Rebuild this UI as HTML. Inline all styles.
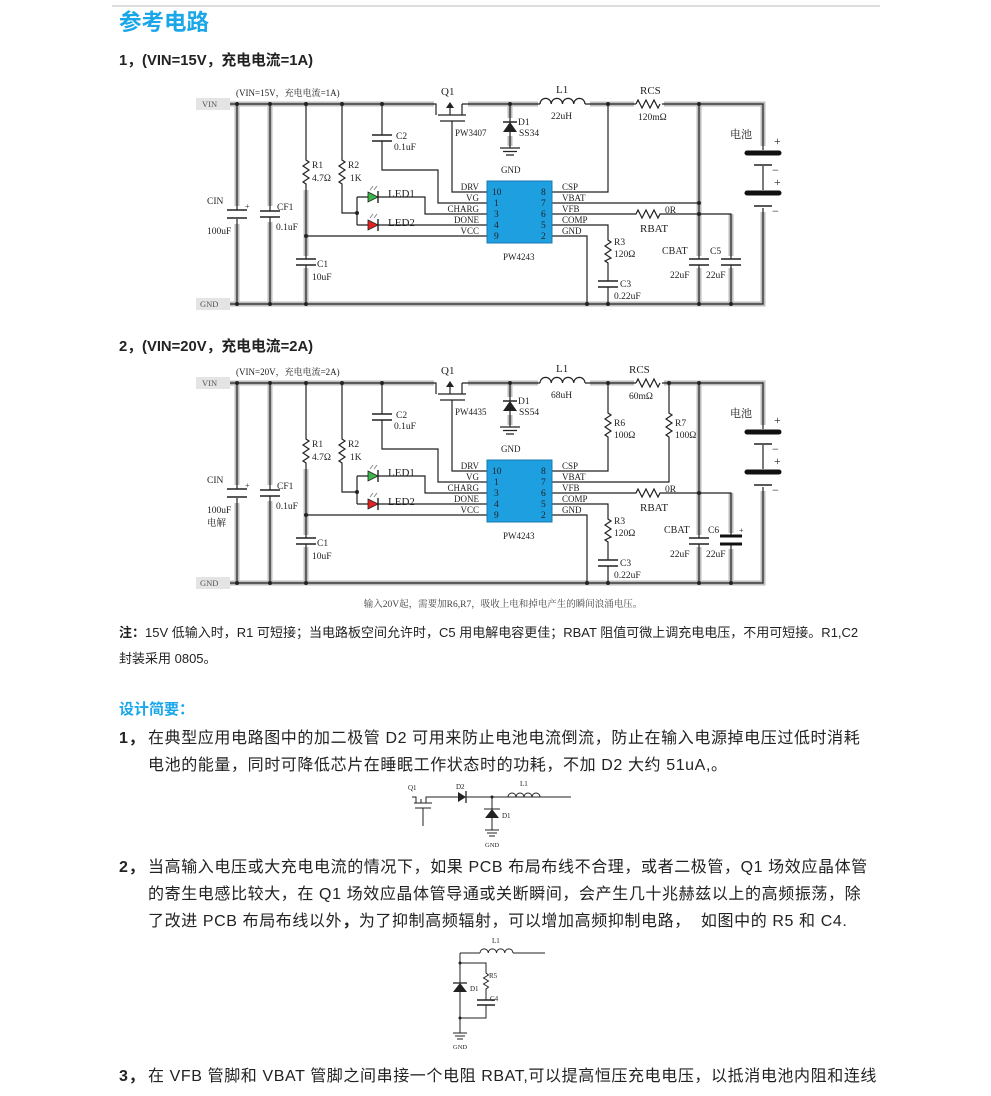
<!DOCTYPE html>
<html><head><meta charset="utf-8">
<style>
html,body{margin:0;padding:0;background:#fff;}
body{width:991px;height:1096px;position:relative;overflow:hidden;font-family:"Liberation Sans","Noto Sans CJK SC",sans-serif;color:#222;}
.t{position:absolute;white-space:nowrap;}
.h{color:#1aa7ea;font-weight:bold;}
.p{font-size:16px;letter-spacing:0.6px;}
svg{position:absolute;left:0;top:0;}
</style></head><body>
<div style="position:absolute;left:112px;top:5px;width:768px;height:2px;background:#ddd;"></div>
<div class="t h" style="left:119px;top:5px;font-size:22.5px;">参考电路</div>
<div class="t" style="left:119px;top:49px;font-size:14.8px;font-weight:bold;">1，(VIN=15V，充电电流=1A)</div>
<div class="t" style="left:119px;top:335px;font-size:14.8px;font-weight:bold;">2，(VIN=20V，充电电流=2A)</div>
<div class="t" style="left:119px;top:622px;font-size:13px;"><b>注：</b>15V 低输入时，R1 可短接；当电路板空间允许时，C5 用电解电容更佳；RBAT 阻值可微上调充电电压，不用可短接。R1,C2</div>
<div class="t" style="left:119px;top:648px;font-size:13px;">封装采用 0805。</div>
<div class="t h" style="left:119px;top:698px;font-size:15px;">设计简要：</div>
<div class="t p" style="left:119px;top:724px;"><b>1，</b></div>
<div class="t p" style="left:148px;top:724px;">在典型应用电路图中的加二极管 D2 可用来防止电池电流倒流，防止在输入电源掉电压过低时消耗</div>
<div class="t p" style="left:148px;top:751px;">电池的能量，同时可降低芯片在睡眠工作状态时的功耗，不加 D2 大约 51uA,。</div>
<div class="t p" style="left:119px;top:853px;"><b>2，</b></div>
<div class="t p" style="left:148px;top:853px;">当高输入电压或大充电电流的情况下，如果 PCB 布局布线不合理，或者二极管，Q1 场效应晶体管</div>
<div class="t p" style="left:148px;top:880px;">的寄生电感比较大，在 Q1 场效应晶体管导通或关断瞬间，会产生几十兆赫兹以上的高频振荡，除</div>
<div class="t p" style="left:148px;top:907px;">了改进 PCB 布局布线以外<b>，</b>为了抑制高频辐射，可以增加高频抑制电路，&nbsp; 如图中的 R5 和 C4.</div>
<div class="t p" style="left:119px;top:1062px;"><b>3，</b></div>
<div class="t p" style="left:148px;top:1062px;">在 VFB 管脚和 VBAT 管脚之间串接一个电阻 RBAT,可以提高恒压充电电压，以抵消电池内阻和连线</div>

<svg width="991" height="1096" viewBox="0 0 991 1096" font-family="Liberation Serif,'Noto Serif CJK SC',serif" font-size="9.5" fill="#222">
<!-- ===== Circuit 1 ===== -->
<g id="c1">
<g stroke="#bdbdbd" stroke-width="5" fill="none">
<path d="M230 104H434M468 104H538M590 104H634M664 104H763V146M763 212V304H230M237 104V206M237 224V304M270 104V206M270 222V304M306 190V256M306 268V304M699 104V256M699 268V304M731 214V256M731 268V304M510 104V118M510 136V146"/>
</g>
<rect x="196" y="98" width="34" height="12" fill="#e4e4e4"/><text x="202" y="107" font-size="8.5" fill="#555">VIN</text>
<rect x="196" y="298" width="34" height="12" fill="#e4e4e4"/><text x="200" y="307" font-size="8.5" fill="#555">GND</text>
<text x="236" y="96" font-size="9">(VIN=15V，充电电流=1A)</text>
<g stroke="#222" stroke-width="1.2" fill="none">
<path d="M230 104H436V115M462 104V115M462 104H540M585 104H636M662 104H763V150M763 166V190M763 208V304H230"/>
<path d="M237 104V210M237 219V304M270 104V211M270 217V304"/>
<path d="M306 104V160l3 2l-6 4l6 4l-6 4l6 4l-6 4l3 2V259M306 265V304"/>
<path d="M342 104V160l3 2l-6 4l6 4l-6 4l6 4l-6 4l3 2V213H357M357 197V225M357 197H368M378 197H425V214H487M357 225H368M378 225H487"/>
<path d="M382 104V135M382 141V170H438V203H487"/>
<path d="M452 121V192H487M438 115H466M440 121H465M450 115V107"/>
<path d="M510 104V132M510 132V148M500 148H520M503 151.5H517M506 155H514"/>
<path d="M540 104a5.6 5.6 0 0 1 11.25 0a5.6 5.6 0 0 1 11.25 0a5.6 5.6 0 0 1 11.25 0a5.6 5.6 0 0 1 11.25 0"/>
<path d="M608 104V192H552"/>
<path d="M636 104l2 -4l4 8l4 -8l4 8l4 -8l4 8l2 -4"/>
<path d="M552 203H699M552 214H636l2 -4l4 8l4 -8l4 8l4 -8l4 8l2 -4H731V259M731 265V304M699 104V259M699 265V304"/>
<path d="M552 225H608V240l3 2l-6 4l6 4l-6 4l6 4l-6 3l3 2V281M608 287V304M552 236H587V304M306 236H487"/>
</g>
<g stroke="#222" stroke-width="1.6">
<path d="M227 210H247M227 218H247M260 211H280M260 217H280M296 259H316M296 265H316M372 135H392M372 141H392M598 281H618M598 287H618M689 259H709M689 265H709M721 259H741M721 265H741"/>
</g>
<path d="M747 153H779M747 193H779" stroke="#111" stroke-width="5" stroke-linecap="round"/>
<path d="M754 165H772M754 206H772" stroke="#222" stroke-width="1.4"/>
<polygon points="446,108 450,102 454,108" fill="#222"/>
<polygon points="503,132 517,132 510,122" fill="#222"/><path d="M503 122H517" stroke="#222" stroke-width="1.5"/>
<polygon points="368,192 378,197 368,202" fill="#3bb54a" stroke="#222" stroke-width="0.8"/><path d="M378 191V203" stroke="#222" stroke-width="1.4"/>
<polygon points="368,220 378,225 368,230" fill="#e52222" stroke="#222" stroke-width="0.8"/><path d="M378 219V231" stroke="#222" stroke-width="1.4"/>
<path d="M370 190l3 -4M374 190l3 -4M370 218l3 -4M374 218l3 -4" stroke="#888" stroke-width="1"/>
<g fill="#222"><circle cx="237" cy="104" r="2"/><circle cx="270" cy="104" r="2"/><circle cx="306" cy="104" r="2"/><circle cx="342" cy="104" r="2"/><circle cx="382" cy="104" r="2"/><circle cx="510" cy="104" r="2"/><circle cx="608" cy="104" r="2"/><circle cx="699" cy="104" r="2"/><circle cx="237" cy="304" r="2"/><circle cx="270" cy="304" r="2"/><circle cx="306" cy="304" r="2"/><circle cx="587" cy="304" r="2"/><circle cx="608" cy="304" r="2"/><circle cx="699" cy="304" r="2"/><circle cx="731" cy="304" r="2"/><circle cx="306" cy="236" r="2"/><circle cx="357" cy="213" r="2"/><circle cx="699" cy="203" r="2"/><circle cx="699" cy="214" r="2"/></g>
<rect x="487" y="181" width="65" height="62" fill="#1e9fdf" stroke="#1a78b0"/>
<g font-size="9.5"><text x="492" y="195">10</text><text x="494" y="206">1</text><text x="494" y="217">3</text><text x="494" y="228">4</text><text x="494" y="239">9</text>
<text x="541" y="195">8</text><text x="541" y="206">7</text><text x="541" y="217">6</text><text x="541" y="228">5</text><text x="541" y="239">2</text></g>
<g font-size="9" text-anchor="end"><text x="479" y="190">DRV</text><text x="479" y="201">VG</text><text x="479" y="212">CHARG</text><text x="479" y="223">DONE</text><text x="479" y="234">VCC</text></g>
<g font-size="9"><text x="562" y="190">CSP</text><text x="562" y="201">VBAT</text><text x="562" y="212">VFB</text><text x="562" y="223">COMP</text><text x="562" y="234">GND</text></g>
<text x="503" y="260" font-size="9">PW4243</text>
<text x="441" y="95" font-size="11">Q1</text><text x="455" y="136" font-size="9">PW3407</text>
<text x="518" y="125">D1</text><text x="519" y="136">SS34</text><text x="501" y="173" font-size="9">GND</text>
<text x="556" y="93" font-size="11">L1</text><text x="551" y="119">22uH</text>
<text x="640" y="94" font-size="11">RCS</text><text x="638" y="120">120mΩ</text>
<text x="730" y="138" font-size="11">电池</text>
<text x="774" y="145" font-size="12">+</text><text x="772" y="174" font-size="12">−</text><text x="774" y="186" font-size="12">+</text><text x="772" y="215" font-size="12">−</text>
<text x="396" y="139">C2</text><text x="394" y="150">0.1uF</text>
<text x="312" y="168">R1</text><text x="312" y="181">4.7Ω</text><text x="348" y="168">R2</text><text x="350" y="181">1K</text>
<text x="388" y="197" font-size="11">LED1</text><text x="388" y="226" font-size="11">LED2</text>
<text x="207" y="204">CIN</text><text x="245" y="209" font-size="8">+</text><text x="207" y="234">100uF</text>
<text x="277" y="210">CF1</text><text x="276" y="230">0.1uF</text>
<text x="317" y="267">C1</text><text x="312" y="280">10uF</text>
<text x="614" y="245">R3</text><text x="614" y="257">120Ω</text><text x="620" y="287">C3</text><text x="614" y="299">0.22uF</text>
<text x="665" y="213">0R</text><text x="640" y="232" font-size="11">RBAT</text>
<text x="662" y="254" font-size="10">CBAT</text><text x="710" y="254">C5</text><text x="670" y="278">22uF</text><text x="706" y="278">22uF</text>
</g>

<!-- ===== Circuit 2 ===== -->
<g transform="translate(0,279)">
<g stroke="#bdbdbd" stroke-width="5" fill="none">
<path d="M230 104H434M468 104H538M590 104H634M664 104H763V146M763 212V304H230M237 104V206M237 224V304M270 104V206M270 222V304M306 190V256M306 268V304M699 104V256M699 268V304M731 214V254M731 270V304M510 104V118M510 136V146"/>
</g>
<rect x="196" y="98" width="34" height="12" fill="#e4e4e4"/><text x="202" y="107" font-size="8.5" fill="#555">VIN</text>
<rect x="196" y="298" width="34" height="12" fill="#e4e4e4"/><text x="200" y="307" font-size="8.5" fill="#555">GND</text>
<text x="236" y="96" font-size="9">(VIN=20V，充电电流=2A)</text>
<g stroke="#222" stroke-width="1.2" fill="none">
<path d="M230 104H436V115M462 104V115M462 104H540M585 104H636M662 104H763V150M763 166V190M763 208V304H230"/>
<path d="M237 104V210M237 219V304M270 104V211M270 217V304"/>
<path d="M306 104V160l3 2l-6 4l6 4l-6 4l6 4l-6 4l3 2V259M306 265V304"/>
<path d="M342 104V160l3 2l-6 4l6 4l-6 4l6 4l-6 4l3 2V213H357M357 197V225M357 197H368M378 197H425V214H487M357 225H368M378 225H487"/>
<path d="M382 104V135M382 141V170H438V203H487"/>
<path d="M452 121V192H487M438 115H466M440 121H465M450 115V107"/>
<path d="M510 104V132M510 132V148M500 148H520M503 151.5H517M506 155H514"/>
<path d="M540 104a5.6 5.6 0 0 1 11.25 0a5.6 5.6 0 0 1 11.25 0a5.6 5.6 0 0 1 11.25 0a5.6 5.6 0 0 1 11.25 0"/>
<path d="M608 104V134l3 2l-6 4l6 4l-6 4l6 4l-6 4l3 2V192H552"/>
<path d="M669 104V134l3 2l-6 4l6 4l-6 4l6 4l-6 4l3 2V203H552"/>
<path d="M636 104l2 -4l4 8l4 -8l4 8l4 -8l4 8l2 -4"/>
<path d="M552 214H636l2 -4l4 8l4 -8l4 8l4 -8l4 8l2 -4H731V257M731 265V304M699 104V259M699 265V304"/>
<path d="M552 225H608V240l3 2l-6 4l6 4l-6 4l6 4l-6 3l3 2V281M608 287V304M552 236H587V304M306 236H487"/>
</g>
<g stroke="#222" stroke-width="1.6">
<path d="M227 210H247M227 218H247M260 211H280M260 217H280M296 259H316M296 265H316M372 135H392M372 141H392M598 281H618M598 287H618M689 259H709M689 265H709"/>
</g>
<path d="M720 257H742M720 265H742" stroke="#111" stroke-width="3"/>
<path d="M747 153H779M747 193H779" stroke="#111" stroke-width="5" stroke-linecap="round"/>
<path d="M754 165H772M754 206H772" stroke="#222" stroke-width="1.4"/>
<polygon points="446,108 450,102 454,108" fill="#222"/>
<polygon points="503,132 517,132 510,122" fill="#222"/><path d="M503 122H517" stroke="#222" stroke-width="1.5"/>
<polygon points="368,192 378,197 368,202" fill="#3bb54a" stroke="#222" stroke-width="0.8"/><path d="M378 191V203" stroke="#222" stroke-width="1.4"/>
<polygon points="368,220 378,225 368,230" fill="#e52222" stroke="#222" stroke-width="0.8"/><path d="M378 219V231" stroke="#222" stroke-width="1.4"/>
<path d="M370 190l3 -4M374 190l3 -4M370 218l3 -4M374 218l3 -4" stroke="#888" stroke-width="1"/>
<g fill="#222"><circle cx="237" cy="104" r="2"/><circle cx="270" cy="104" r="2"/><circle cx="306" cy="104" r="2"/><circle cx="342" cy="104" r="2"/><circle cx="382" cy="104" r="2"/><circle cx="510" cy="104" r="2"/><circle cx="608" cy="104" r="2"/><circle cx="669" cy="104" r="2"/><circle cx="699" cy="104" r="2"/><circle cx="237" cy="304" r="2"/><circle cx="270" cy="304" r="2"/><circle cx="306" cy="304" r="2"/><circle cx="587" cy="304" r="2"/><circle cx="608" cy="304" r="2"/><circle cx="699" cy="304" r="2"/><circle cx="731" cy="304" r="2"/><circle cx="306" cy="236" r="2"/><circle cx="357" cy="213" r="2"/><circle cx="699" cy="214" r="2"/></g>
<rect x="487" y="181" width="65" height="62" fill="#1e9fdf" stroke="#1a78b0"/>
<g font-size="9.5"><text x="492" y="195">10</text><text x="494" y="206">1</text><text x="494" y="217">3</text><text x="494" y="228">4</text><text x="494" y="239">9</text>
<text x="541" y="195">8</text><text x="541" y="206">7</text><text x="541" y="217">6</text><text x="541" y="228">5</text><text x="541" y="239">2</text></g>
<g font-size="9" text-anchor="end"><text x="479" y="190">DRV</text><text x="479" y="201">VG</text><text x="479" y="212">CHARG</text><text x="479" y="223">DONE</text><text x="479" y="234">VCC</text></g>
<g font-size="9"><text x="562" y="190">CSP</text><text x="562" y="201">VBAT</text><text x="562" y="212">VFB</text><text x="562" y="223">COMP</text><text x="562" y="234">GND</text></g>
<text x="503" y="260" font-size="9">PW4243</text>
<text x="441" y="95" font-size="11">Q1</text><text x="455" y="136" font-size="9">PW4435</text>
<text x="518" y="125">D1</text><text x="519" y="136">SS54</text><text x="501" y="173" font-size="9">GND</text>
<text x="556" y="93" font-size="11">L1</text><text x="551" y="119">68uH</text>
<text x="629" y="94" font-size="11">RCS</text><text x="629" y="120">60mΩ</text>
<text x="614" y="147">R6</text><text x="614" y="159">100Ω</text><text x="675" y="147">R7</text><text x="675" y="159">100Ω</text>
<text x="730" y="138" font-size="11">电池</text>
<text x="774" y="145" font-size="12">+</text><text x="772" y="174" font-size="12">−</text><text x="774" y="186" font-size="12">+</text><text x="772" y="215" font-size="12">−</text>
<text x="396" y="139">C2</text><text x="394" y="150">0.1uF</text>
<text x="312" y="168">R1</text><text x="312" y="181">4.7Ω</text><text x="348" y="168">R2</text><text x="350" y="181">1K</text>
<text x="388" y="197" font-size="11">LED1</text><text x="388" y="226" font-size="11">LED2</text>
<text x="207" y="204">CIN</text><text x="245" y="209" font-size="8">+</text><text x="207" y="234">100uF</text><text x="207" y="247">电解</text>
<text x="277" y="210">CF1</text><text x="276" y="230">0.1uF</text>
<text x="317" y="267">C1</text><text x="312" y="280">10uF</text>
<text x="614" y="245">R3</text><text x="614" y="257">120Ω</text><text x="620" y="287">C3</text><text x="614" y="299">0.22uF</text>
<text x="665" y="213">0R</text><text x="640" y="232" font-size="11">RBAT</text>
<text x="664" y="254" font-size="10">CBAT</text><text x="708" y="254">C6</text><text x="739" y="254" font-size="8">+</text><text x="670" y="278">22uF</text><text x="706" y="278">22uF</text>
</g>
<text x="503" y="607" font-size="9.5" text-anchor="middle" fill="#444">输入20V起，需要加R6,R7，吸收上电和掉电产生的瞬间浪涌电压。</text>

<!-- small diagram 1 -->
<g stroke="#222" stroke-width="1" fill="none">
<path d="M412 797H416V803M430 797H426V803M414 803H432M415 808H431M423 808V826M421 803V799"/>
<path d="M430 797H458M466 797H571"/>
<path d="M508 797a4 4 0 0 1 8 0a4 4 0 0 1 8 0a4 4 0 0 1 8 0a4 4 0 0 1 8 0"/>
<path d="M492 797V818M484 809H500M492 818V830M485 830H499M487 833H497M489 836H495"/>
</g>
<polygon points="458,792 466,797 458,802" fill="#222"/><path d="M466 791V803" stroke="#222" stroke-width="1.3"/>
<polygon points="485,818 499,818 492,809" fill="#222"/>
<circle cx="492" cy="797" r="1.5" fill="#222"/>
<g font-size="7" fill="#222"><text x="408" y="790">Q1</text><text x="456" y="789">D2</text><text x="520" y="786">L1</text><text x="502" y="818">D1</text><text x="485" y="847" font-size="6.5">GND</text></g>

<!-- small diagram 2 -->
<g stroke="#222" stroke-width="1" fill="none">
<path d="M460 953H480M513 953H545"/>
<path d="M480 953a4.1 4.1 0 0 1 8.25 0a4.1 4.1 0 0 1 8.25 0a4.1 4.1 0 0 1 8.25 0a4.1 4.1 0 0 1 8.25 0"/>
<path d="M460 953V1033M460 963H486V973l2.5 2l-5 3l5 3l-5 3l5 3l-2.5 2V1000M486 1005V1018H460"/>
<path d="M453 1033H467M455 1036H465M457 1039H463"/>
</g>
<path d="M477 1000H495M477 1005H495" stroke="#222" stroke-width="1.4"/>
<polygon points="453,992 467,992 460,983" fill="#222"/><path d="M453 983H467" stroke="#222" stroke-width="1.3"/>
<circle cx="460" cy="963" r="1.5" fill="#222"/><circle cx="460" cy="1018" r="1.5" fill="#222"/>
<g font-size="7" fill="#222"><text x="492" y="943">L1</text><text x="489" y="978">R5</text><text x="470" y="991">D1</text><text x="490" y="1001">C4</text><text x="453" y="1049" font-size="6.5">GND</text></g>
</svg>
</body></html>
